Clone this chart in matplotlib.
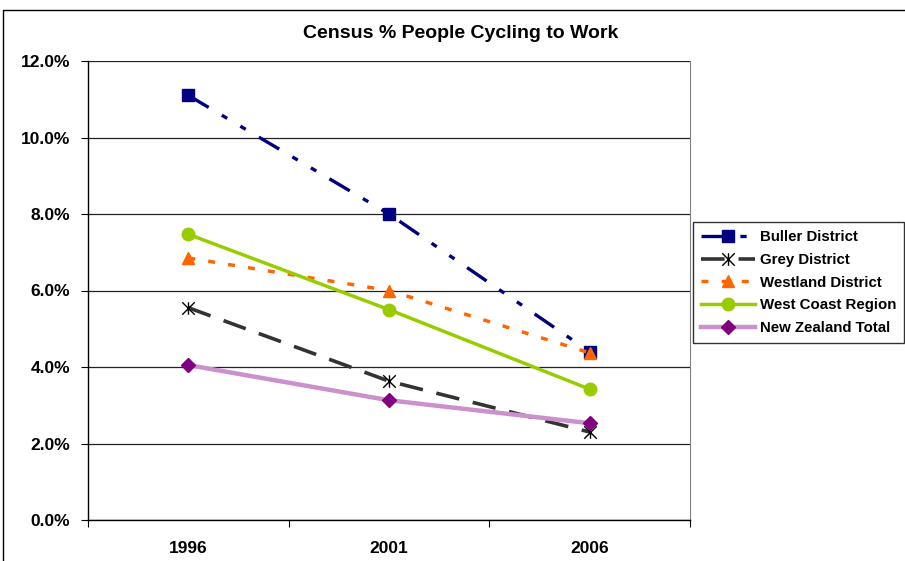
import matplotlib
matplotlib.use('Agg')
import matplotlib.pyplot as plt
from matplotlib.path import Path
from matplotlib.patches import Rectangle
from matplotlib.ticker import FuncFormatter, FixedLocator

plt.rcParams['font.family'] = ['Liberation Sans', 'DejaVu Sans']
plt.rcParams['font.weight'] = 'bold'
plt.rcParams['lines.scale_dashes'] = False

# ── data ──
years = ['1996', '2001', '2006']
buller = [11.1, 8.0, 4.4]
grey = [5.55, 3.63, 2.3]
westland = [6.85, 6.0, 4.37]
west_coast = [7.47, 5.5, 3.42]
nz_total = [4.05, 3.13, 2.53]

# Excel-style star marker: vertical bar + x
star = Path([(0, -1), (0, 1), (-1, -1), (1, 1), (-1, 1), (1, -1)],
            [Path.MOVETO, Path.LINETO, Path.MOVETO, Path.LINETO, Path.MOVETO, Path.LINETO])

fig = plt.figure(figsize=(9.05, 5.61), dpi=100)
ax = fig.add_axes([88/905, 1-520/561, 602/905, 459/561])

x = range(len(years))
ax.plot(x, buller, color='#000080', lw=2.4, dashes=(17, 11, 4.5, 11, 4.5, 11),
        marker='s', ms=9, label='Buller District', zorder=5)
ax.plot(x, grey, color='#333333', lw=2.6, dashes=(17, 10),
        marker=star, ms=9, mec='black', mfc='none', mew=1.0, label='Grey District', zorder=5)
ax.plot(x, westland, color='#ff6600', lw=2.5, dashes=(5, 9.5),
        marker='^', ms=9, mec='#ff6600', label='Westland District', zorder=5)
ax.plot(x, west_coast, color='#99cc00', lw=2.5,
        marker='o', ms=9, label='West Coast Region', zorder=5)
ax.plot(x, nz_total, color='#cc90cc', lw=3.2, marker='D', ms=7,
        mfc='#800080', mec='#800080', label='New Zealand Total', zorder=5)

ax.set_xlim(-0.5, 2.5)
ax.set_ylim(0, 12)
ax.set_yticks([0, 2, 4, 6, 8, 10, 12])
ax.yaxis.set_major_formatter(FuncFormatter(lambda v, _: f'{v:.1f}%'))
ax.grid(axis='y', color='#222222', lw=0.9)
ax.set_axisbelow(True)

ax.set_xticks(list(x))
ax.set_xticklabels(years)
ax.xaxis.set_minor_locator(FixedLocator([-0.5, 0.5, 1.5, 2.5]))
ax.tick_params(axis='x', which='major', length=0, pad=15, labelsize=12.5)
ax.tick_params(axis='x', which='minor', length=5, direction='out', width=0.8)
ax.tick_params(axis='y', length=5, direction='out', pad=8, labelsize=12.5, width=0.8)

ax.spines['top'].set_visible(False)
ax.spines['right'].set_color('#808080')
ax.spines['right'].set_linewidth(0.8)
for s in ['left', 'bottom']:
    ax.spines[s].set_color('black')
    ax.spines[s].set_linewidth(1.0)

fig.text(461/905, 1-33/561, 'Census % People Cycling to Work', ha='center', va='center',
         fontsize=14, fontweight='bold')

leg = ax.legend(loc='upper left', bbox_to_anchor=(693/905, 1-222/561), bbox_transform=fig.transFigure,
                frameon=True, fancybox=False, edgecolor='black', fontsize=10.8,
                handlelength=3.6, handletextpad=0.3, borderpad=0.55, labelspacing=0.58,
                borderaxespad=0)
leg.get_frame().set_linewidth(1.0)

# outer chart border
fig.add_artist(Rectangle((3/905, -0.1), 1.2, 0.1 + 1 - 10/561, transform=fig.transFigure,
                         fill=False, edgecolor='black', lw=1.0))

plt.savefig('out.png', dpi=100)
plt.close()
